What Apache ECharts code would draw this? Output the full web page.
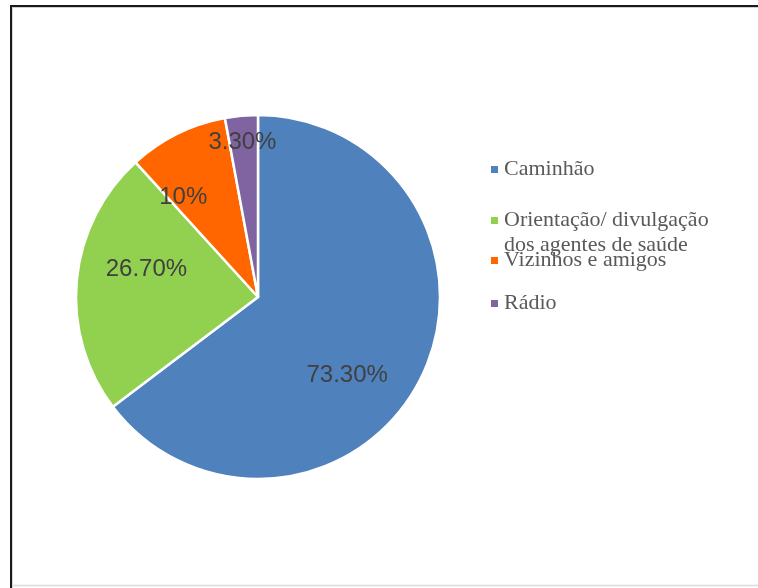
<!DOCTYPE html>
<html>
<head>
<meta charset="utf-8">
<script src="https://cdn.jsdelivr.net/npm/echarts@6/dist/echarts.min.js"></script>
<style>
  html, body { margin: 0; padding: 0; background: #ffffff; }
  #chart { width: 758px; height: 588px; }
</style>
</head>
<body>
<div id="chart"></div>
<script>
// ---- data ----
const categories = ['Caminhão', 'Orientação/ divulgação dos agentes de saúde', 'Vizinhos e amigos', 'Rádio'];
const values = [73.3, 26.7, 10, 3.3];
const legendLabels = ['Caminhão', ' \nOrientação/ divulgação\ndos agentes de saúde', 'Vizinhos e amigos', 'Rádio'];

// ---- styling ----
const colors = ['#4F81BD', '#92D050', '#FF6600', '#8064A2'];
const labelNudges = [[5, 37], [-18, -19], [-33, -15], [-7, -61]];
const legendTops = [152, 178, 243, 286];

const chart = echarts.init(document.getElementById('chart'), null, { renderer: 'canvas' });

const pieData = categories.map((name, i) => ({
  name: name,
  value: values[i],
  itemStyle: { color: colors[i] },
  label: { offset: labelNudges[i] }
}));

const legends = categories.map((name, i) => ({
  orient: 'vertical',
  left: 484,
  top: legendTops[i],
  data: [name],
  icon: 'rect',
  itemWidth: 9,
  itemHeight: 9,
  itemGap: 0,
  selectedMode: false,
  formatter: () => legendLabels[i],
  textStyle: {
    fontFamily: 'Liberation Serif',
    fontSize: 22,
    lineHeight: 25,
    color: '#595959'
  }
}));

const option = {
  animation: false,
  backgroundColor: '#ffffff',
  legend: legends,
  graphic: [
    { type: 'line', shape: { x1: 10, y1: 6, x2: 758, y2: 6 }, style: { stroke: '#1a1a1a', lineWidth: 2 } },
    { type: 'line', shape: { x1: 10, y1: 7.5, x2: 758, y2: 7.5 }, style: { stroke: '#d0d0d0', lineWidth: 1 } },
    { type: 'line', shape: { x1: 11, y1: 5, x2: 11, y2: 588 }, style: { stroke: '#1a1a1a', lineWidth: 2 } },
    { type: 'line', shape: { x1: 12.5, y1: 7, x2: 12.5, y2: 588 }, style: { stroke: '#d8d8d8', lineWidth: 1 } },
    { type: 'line', shape: { x1: 12, y1: 585.5, x2: 758, y2: 585.5 }, style: { stroke: '#dcdcdc', lineWidth: 1.5 } }
  ],
  series: [{
    type: 'pie',
    center: [258, 297],
    radius: 182,
    startAngle: 90,
    clockwise: true,
    avoidLabelOverlap: false,
    itemStyle: { borderColor: '#ffffff', borderWidth: 2.5 },
    label: {
      show: true,
      position: 'inside',
      fontFamily: 'Liberation Sans',
      fontSize: 24,
      color: '#404040',
      formatter: p => (Number.isInteger(p.value) ? p.value : p.value.toFixed(2)) + '%'
    },
    labelLine: { show: false },
    emphasis: { disabled: true },
    data: pieData
  }]
};

chart.setOption(option);
</script>
</body>
</html>
